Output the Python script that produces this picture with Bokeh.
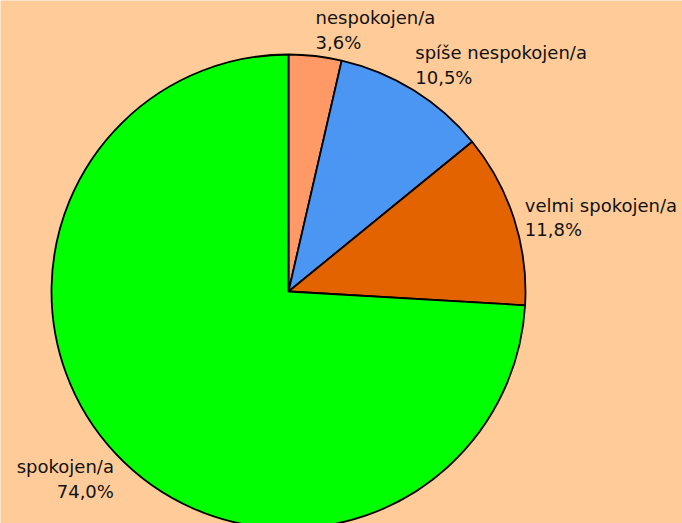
import math
from bokeh.plotting import figure
from bokeh.models import Range1d, ColumnDataSource
from bokeh.core.properties import value
from bokeh.embed import file_html
from bokeh.resources import INLINE

categories = ["nespokojen/a", "spíše nespokojen/a", "velmi spokojen/a", "spokojen/a"]
percent = [3.6, 10.5, 11.8, 74.0]
percent_labels = ["3,6%", "10,5%", "11,8%", "74,0%"]
colors = ["#FF9966", "#4B96F3", "#E36300", "#00FF00"]

W, H = 682, 523
CX, CY, R = 288, H - 291, 237
GAP = 3

total = sum(percent)
starts, ends, lx, ly, aligns, baselines, texts = [], [], [], [], [], [], []
cum = 0.0
for cat, v, pl in zip(categories, percent, percent_labels):
    a0 = cum / total * 2 * math.pi
    cum += v
    a1 = cum / total * 2 * math.pi
    starts.append(math.pi / 2 - a0)
    ends.append(math.pi / 2 - a1)
    mid = (a0 + a1) / 2
    s, c = math.sin(mid), math.cos(mid)
    if c > 0.5:
        bl = "bottom"
    elif c < -0.5:
        bl = "top"
    else:
        bl = "middle"
    extra = 8 if bl == "middle" else 0
    lx.append(CX + (R + GAP) * s + (extra if s > 0 else -extra))
    ly.append(CY + (R + GAP) * c)
    aligns.append("left" if s > 0 else "right")
    baselines.append(bl)
    texts.append(cat + "\n" + pl)

src = ColumnDataSource(dict(start=starts, end=ends, color=colors))
lab = ColumnDataSource(dict(x=lx, y=ly, text=texts, align=aligns, baseline=baselines))

p = figure(width=W, height=H, x_range=Range1d(0, W), y_range=Range1d(0, H),
           output_backend="svg", toolbar_location=None, min_border=0,
           background_fill_color="#FFCC99", border_fill_color="#FFCC99")
p.axis.visible = False
p.grid.visible = False
p.outline_line_color = None

p.wedge(x=CX, y=CY, radius=R, start_angle="start", end_angle="end", direction="clock",
        fill_color="color", line_color="black", line_width=1.8, source=src)

p.text(x="x", y="y", text="text", text_align="align", text_baseline="baseline",
       text_font=value("DejaVu Sans"), text_font_size="18px", text_color="#111111",
       text_line_height=1.17, source=lab)

open("out.html", "w").write(file_html(p, INLINE))
